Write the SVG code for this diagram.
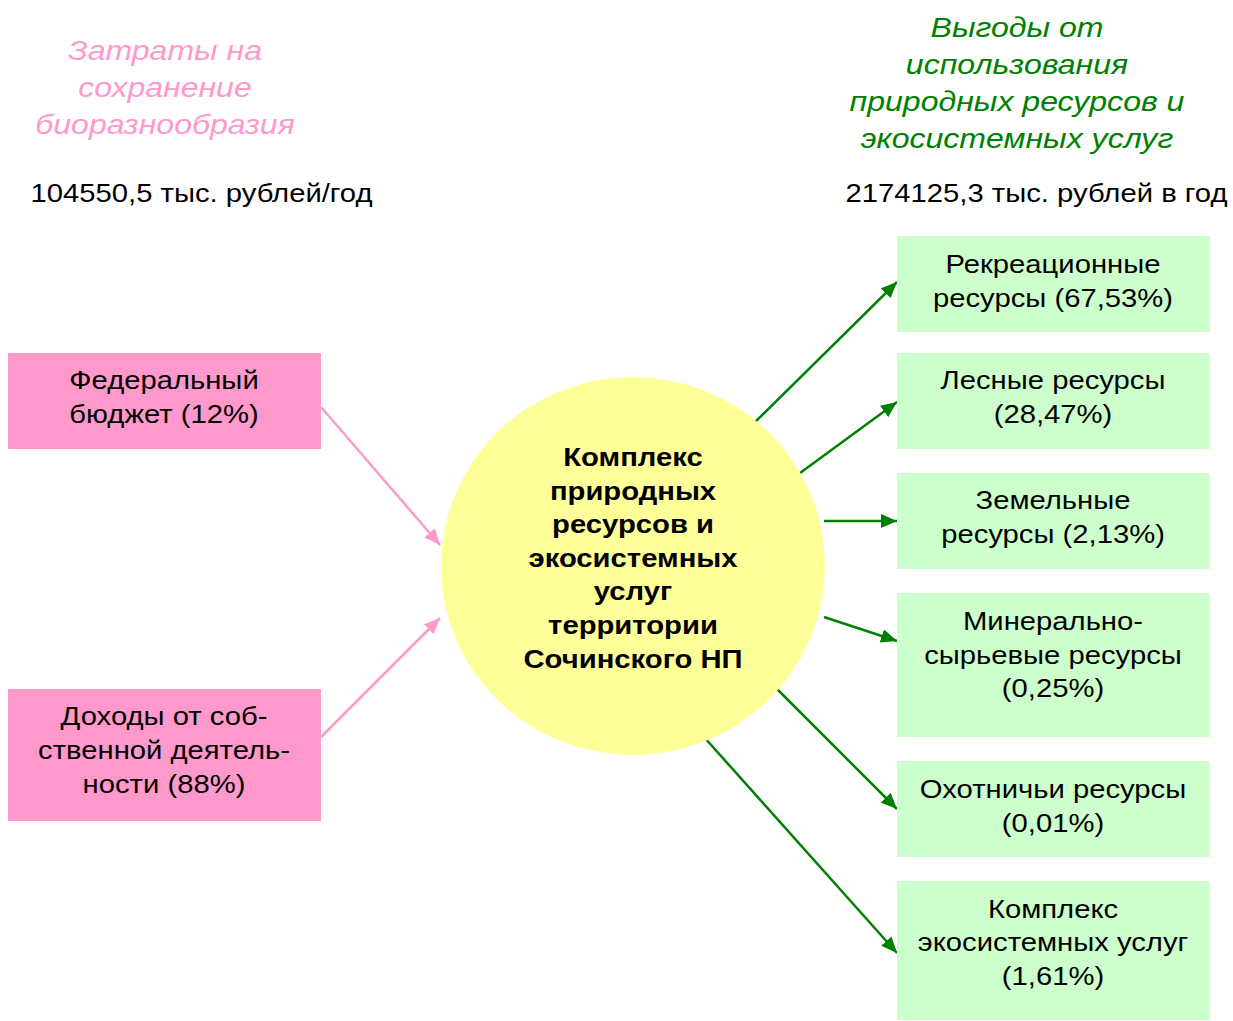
<svg xmlns="http://www.w3.org/2000/svg" width="1233" height="1021" viewBox="0 0 1233 1021">
<defs>
<style>
.t{font-family:"Liberation Sans",Arial,sans-serif;font-size:25px;fill:#000;text-anchor:middle}
.b{font-weight:bold}
.ti{font-family:"Liberation Sans",Arial,sans-serif;font-size:28px;font-style:italic;text-anchor:middle}
.pk{fill:#FF99CC}
.gr{fill:#CCFFCC}
.ap{stroke:#FF99CC;stroke-width:2.5;fill:none}
.ag{stroke:#008000;stroke-width:2.5;fill:none}
</style>
<marker id="mp" viewBox="0 0 16 14" refX="16" refY="7" markerWidth="16" markerHeight="14" markerUnits="userSpaceOnUse" orient="auto"><path d="M0,0L16,7L0,14z" fill="#FF99CC"/></marker>
<marker id="mg" viewBox="0 0 16 14" refX="16" refY="7" markerWidth="16" markerHeight="14" markerUnits="userSpaceOnUse" orient="auto"><path d="M0,0L16,7L0,14z" fill="#008000"/></marker>
</defs>
<rect width="1233" height="1021" fill="#fff"/>
<g id="title-left">
<g transform="translate(165,0) scale(1.145,1)">
<text class="ti" fill="#FF99CC" x="0" y="60">Затраты на</text>
<text class="ti" fill="#FF99CC" x="0" y="97">сохранение</text>
<text class="ti" fill="#FF99CC" x="0" y="134">биоразнообразия</text>
</g>
<g transform="translate(201.5,0) scale(1.17,1)">
<text class="t" x="0" y="202">104550,5 тыс. рублей/год</text>
</g>
</g>
<g id="title-right">
<g transform="translate(1017,0) scale(1.145,1)">
<text class="ti" fill="#008000" x="0" y="37">Выгоды от</text>
<text class="ti" fill="#008000" x="0" y="74">использования</text>
<text class="ti" fill="#008000" x="0" y="111">природных ресурсов и</text>
<text class="ti" fill="#008000" x="0" y="148">экосистемных услуг</text>
</g>
<g transform="translate(1036.5,0) scale(1.17,1)">
<text class="t" x="0" y="202">2174125,3 тыс. рублей в год</text>
</g>
</g>
<g id="connectors">
<line class="ap" x1="321" y1="407" x2="440" y2="545" marker-end="url(#mp)"/>
<line class="ap" x1="321" y1="737" x2="440" y2="618" marker-end="url(#mp)"/>
<line class="ag" x1="752" y1="425" x2="897" y2="282" marker-end="url(#mg)"/>
<line class="ag" x1="800" y1="473" x2="897" y2="402" marker-end="url(#mg)"/>
<line class="ag" x1="824" y1="521" x2="897" y2="521" marker-end="url(#mg)"/>
<line class="ag" x1="824" y1="617" x2="897" y2="641" marker-end="url(#mg)"/>
<line class="ag" x1="777" y1="689" x2="897" y2="809" marker-end="url(#mg)"/>
<line class="ag" x1="704" y1="737" x2="897" y2="953" marker-end="url(#mg)"/>
</g>
<g id="center">
<ellipse cx="633" cy="566" rx="192" ry="189" fill="#FFFF99"/>
<g transform="translate(633,0) scale(1.17,1)">
<text class="t b" x="0" y="466">Комплекс</text>
<text class="t b" x="0" y="500">природных</text>
<text class="t b" x="0" y="533">ресурсов и</text>
<text class="t b" x="0" y="567">экосистемных</text>
<text class="t b" x="0" y="600">услуг</text>
<text class="t b" x="0" y="634">территории</text>
<text class="t b" x="0" y="668">Сочинского НП</text>
</g>
</g>
<g id="fed">
<rect class="pk" x="8" y="353" width="313" height="96"/>
<g transform="translate(164,0) scale(1.17,1)">
<text class="t" x="0" y="389">Федеральный</text>
<text class="t" x="0" y="423">бюджет (12%)</text>
</g>
</g>
<g id="own">
<rect class="pk" x="8" y="689" width="313" height="132"/>
<g transform="translate(164,0) scale(1.17,1)">
<text class="t" x="0" y="725">Доходы от соб-</text>
<text class="t" x="0" y="759">ственной деятель-</text>
<text class="t" x="0" y="793">ности (88%)</text>
</g>
</g>
<g id="rec">
<rect class="gr" x="897" y="236" width="313" height="96"/>
<g transform="translate(1053,0) scale(1.17,1)">
<text class="t" x="0" y="273">Рекреационные</text>
<text class="t" x="0" y="307">ресурсы (67,53%)</text>
</g>
</g>
<g id="forest">
<rect class="gr" x="897" y="353" width="313" height="96"/>
<g transform="translate(1053,0) scale(1.17,1)">
<text class="t" x="0" y="389">Лесные ресурсы</text>
<text class="t" x="0" y="423">(28,47%)</text>
</g>
</g>
<g id="land">
<rect class="gr" x="897" y="473" width="313" height="96"/>
<g transform="translate(1053,0) scale(1.17,1)">
<text class="t" x="0" y="509">Земельные</text>
<text class="t" x="0" y="543">ресурсы (2,13%)</text>
</g>
</g>
<g id="mineral">
<rect class="gr" x="897" y="593" width="313" height="144"/>
<g transform="translate(1053,0) scale(1.17,1)">
<text class="t" x="0" y="630">Минерально-</text>
<text class="t" x="0" y="664">сырьевые ресурсы</text>
<text class="t" x="0" y="697">(0,25%)</text>
</g>
</g>
<g id="hunt">
<rect class="gr" x="897" y="761" width="313" height="96"/>
<g transform="translate(1053,0) scale(1.17,1)">
<text class="t" x="0" y="798">Охотничьи ресурсы</text>
<text class="t" x="0" y="832">(0,01%)</text>
</g>
</g>
<g id="eco">
<rect class="gr" x="897" y="881" width="313" height="139"/>
<g transform="translate(1053,0) scale(1.17,1)">
<text class="t" x="0" y="918">Комплекс</text>
<text class="t" x="0" y="951">экосистемных услуг</text>
<text class="t" x="0" y="985">(1,61%)</text>
</g>
</g>
</svg>
